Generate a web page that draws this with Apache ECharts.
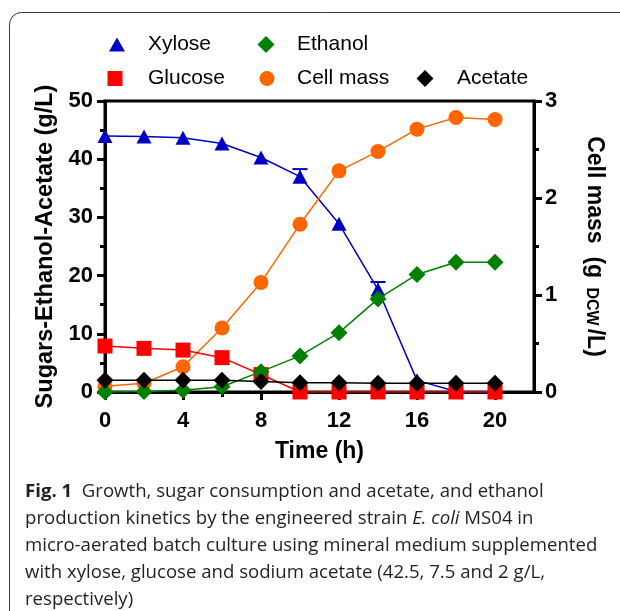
<!DOCTYPE html>
<html>
<head>
<meta charset="utf-8">
<script src="https://cdn.jsdelivr.net/npm/echarts@6/dist/echarts.min.js"></script>
<style>
  html, body { margin: 0; padding: 0; background: #fff; }
  #chart { width: 620px; height: 611px; }
</style>
</head>
<body>
<div id="chart"></div>
<script>
// Batch culture kinetics, E. coli MS04
const timeH     = [0, 2, 4, 6, 8, 10, 12, 14, 16, 18, 20];
const xylose    = [44.0, 43.9, 43.7, 42.7, 40.3, 37.0, 28.9, 17.6, 2.0, 0.1, 0];
const glucose   = [7.9, 7.5, 7.2, 5.9, 3.0, 0, 0, 0, 0, 0, 0];
const ethanol   = [0, 0.1, 0.3, 0.9, 3.5, 6.2, 10.2, 16.0, 20.2, 22.3, 22.3];
const acetate   = [2.0, 2.0, 2.0, 2.0, 1.8, 1.6, 1.6, 1.5, 1.5, 1.5, 1.5];
const cellMass  = [0.06, 0.09, 0.26, 0.66, 1.13, 1.73, 2.28, 2.48, 2.71, 2.83, 2.81];

// upper error bars shown on xylose
const errTime   = [10, 14];
const xyloseErrHigh = [38.3, 18.9];

// axis ticks
const xTickValues      = [0, 4, 8, 12, 16, 20];
const xMinorValues     = [2, 6, 10, 14, 18];
const leftMinorValues  = [5, 15, 25, 35, 45];
const rightMinorValues = [0.5, 1.5, 2.5];

const captionLines = [
  '{b|Fig. 1}  Growth, sugar consumption and acetate, and ethanol',
  'production kinetics by the engineered strain {i|E. coli} MS04 in',
  'micro-aerated batch culture using mineral medium supplemented',
  'with xylose, glucose and sodium acetate (42.5, 7.5 and 2 g/L,',
  'respectively)'
];

const FONT = 'Liberation Sans, Arial, sans-serif';
const CAP_FONT = 'Open Sans, Noto Sans, sans-serif';
const CAP_SIZE = 18.6;

const pairs = arr => timeH.map((t, i) => [t, arr[i]]);

const chart = echarts.init(document.getElementById('chart'), null, { renderer: 'canvas' });

const tickLabel = { fontFamily: FONT, fontSize: 22, fontWeight: 'bold', color: '#000' };
const nameStyle = { fontFamily: FONT, fontSize: 23, fontWeight: 'bold', color: '#000' };
const axisLine = { show: true, onZero: false, lineStyle: { color: '#000', width: 3 } };
const tickStyle = { color: '#000', width: 3 };

function legendItem(name, icon, cx, cy, w, h, textX) {
  return {
    show: true,
    data: [{ name: name, icon: icon }],
    left: cx - w / 2,
    top: cy - 11,
    orient: 'horizontal',
    padding: 0,
    itemWidth: w,
    itemHeight: h,
    selectedMode: false,
    textStyle: {
      fontFamily: FONT, fontSize: 21, color: '#000',
      padding: [0, 0, 0, textX - (cx + w / 2 + 5)]
    }
  };
}

// a bare axis that only draws short ticks at the given values
function minorAxis(min, max, position, values) {
  return {
    type: 'value', min: min, max: max, position: position,
    axisLine: { show: false, onZero: false },
    axisTick: { show: true, customValues: values, length: 5, lineStyle: tickStyle },
    axisLabel: { show: false },
    splitLine: { show: false }
  };
}

const option = {
  animation: false,
  backgroundColor: '#fff',
  grid: {
    left: 105, top: 101, width: 429, height: 291,
    show: true, borderColor: '#000', borderWidth: 3, backgroundColor: 'transparent'
  },
  legend: [
    legendItem('Xylose',    'triangle', 117, 45, 16, 14, 148),
    legendItem('Ethanol',   'diamond',  266, 45, 17, 17, 297),
    legendItem('Glucose',   'rect',     115, 79, 15, 15, 148),
    legendItem('Cell mass', 'circle',   267, 79, 15, 15, 297),
    legendItem('Acetate',   'diamond',  425, 79, 17, 17, 457)
  ],
  xAxis: [
    {
      type: 'value', min: 0, max: 22, position: 'bottom',
      axisLine: axisLine,
      axisTick: { show: true, customValues: xTickValues, length: 8, lineStyle: tickStyle },
      axisLabel: Object.assign({ customValues: xTickValues, margin: 18 }, tickLabel),
      splitLine: { show: false },
      name: 'Time (h)', nameLocation: 'middle', nameGap: 48,
      nameTextStyle: nameStyle
    },
    minorAxis(0, 22, 'bottom', xMinorValues)
  ],
  yAxis: [
    {
      type: 'value', min: 0, max: 50, interval: 10, position: 'left',
      axisLine: axisLine,
      axisTick: { show: true, length: 8, lineStyle: tickStyle },
      axisLabel: Object.assign({ margin: 12 }, tickLabel),
      splitLine: { show: false },
      name: 'Sugars-Ethanol-Acetate (g/L)', nameLocation: 'middle', nameGap: 47, nameRotate: 90,
      nameTextStyle: Object.assign({}, nameStyle, { fontSize: 23.5 })
    },
    {
      type: 'value', min: 0, max: 3, interval: 1, position: 'right',
      axisLine: axisLine,
      axisTick: { show: true, length: 8, lineStyle: tickStyle },
      axisLabel: Object.assign({ margin: 11 }, tickLabel),
      splitLine: { show: false },
      name: 'Cell mass  (g {s|DCW}/L)', nameLocation: 'middle', nameGap: 49, nameRotate: -90,
      nameTextStyle: Object.assign({}, nameStyle, {
        rich: { s: { fontFamily: FONT, fontSize: 16, fontWeight: 'bold', color: '#000', padding: [6, 3, 0, 3] } }
      })
    },
    minorAxis(0, 50, 'left', leftMinorValues),
    minorAxis(0, 3, 'right', rightMinorValues)
  ],
  series: [
    {
      name: 'Xylose', type: 'line', yAxisIndex: 0, data: pairs(xylose),
      symbol: 'triangle', symbolSize: [15, 14],
      itemStyle: { color: '#0000c4' }, lineStyle: { color: '#0000c4', width: 1.5 }, z: 2
    },
    {
      name: 'Xylose error', type: 'custom', yAxisIndex: 0,
      data: errTime.map((t, i) => [t, xylose[timeH.indexOf(t)], xyloseErrHigh[i]]),
      renderItem: function (params, api) {
        const p0 = api.coord([api.value(0), api.value(1)]);
        const p1 = api.coord([api.value(0), api.value(2)]);
        const half = 7.5;
        return {
          type: 'group',
          children: [
            { type: 'line', shape: { x1: p0[0], y1: p0[1], x2: p1[0], y2: p1[1] }, style: { stroke: '#0000c4', lineWidth: 1.5 } },
            { type: 'line', shape: { x1: p1[0] - half, y1: p1[1], x2: p1[0] + half, y2: p1[1] }, style: { stroke: '#0000c4', lineWidth: 2 } }
          ]
        };
      },
      z: 2
    },
    {
      name: 'Cell mass', type: 'line', yAxisIndex: 1, data: pairs(cellMass),
      symbol: 'circle', symbolSize: 15,
      itemStyle: { color: '#ff6600' }, lineStyle: { color: '#ff6600', width: 1.5 }, z: 3
    },
    {
      name: 'Glucose', type: 'line', yAxisIndex: 0, data: pairs(glucose),
      symbol: 'rect', symbolSize: 15,
      itemStyle: { color: '#ff0000' }, lineStyle: { color: '#ff0000', width: 1.5 }, z: 4
    },
    {
      name: 'Ethanol', type: 'line', yAxisIndex: 0, data: pairs(ethanol),
      symbol: 'diamond', symbolSize: 17,
      itemStyle: { color: '#008000' }, lineStyle: { color: '#008000', width: 1.5 }, z: 5
    },
    {
      name: 'Acetate', type: 'line', yAxisIndex: 0, data: pairs(acetate),
      symbol: 'diamond', symbolSize: 17,
      itemStyle: { color: '#000000' }, lineStyle: { color: '#000000', width: 1.5 }, z: 6
    }
  ],
  graphic: [
    {
      type: 'rect', silent: true, z: 0,
      shape: { x: 9.5, y: 12.5, width: 700, height: 700, r: 12 },
      style: { fill: 'none', stroke: '#3a3a3a', lineWidth: 1 }
    }
  ].concat(captionLines.map((line, i) => ({
    type: 'text', silent: true,
    left: 25, top: 482 + i * 27,
    style: {
      text: line,
      fontFamily: CAP_FONT, fontSize: CAP_SIZE, fill: '#231f20',
      rich: {
        b: { fontFamily: CAP_FONT, fontSize: CAP_SIZE, fontWeight: 'bold', fill: '#231f20' },
        i: { fontFamily: CAP_FONT, fontSize: CAP_SIZE, fontStyle: 'italic', fill: '#231f20' }
      }
    }
  })))
};

chart.setOption(option);
</script>
</body>
</html>
